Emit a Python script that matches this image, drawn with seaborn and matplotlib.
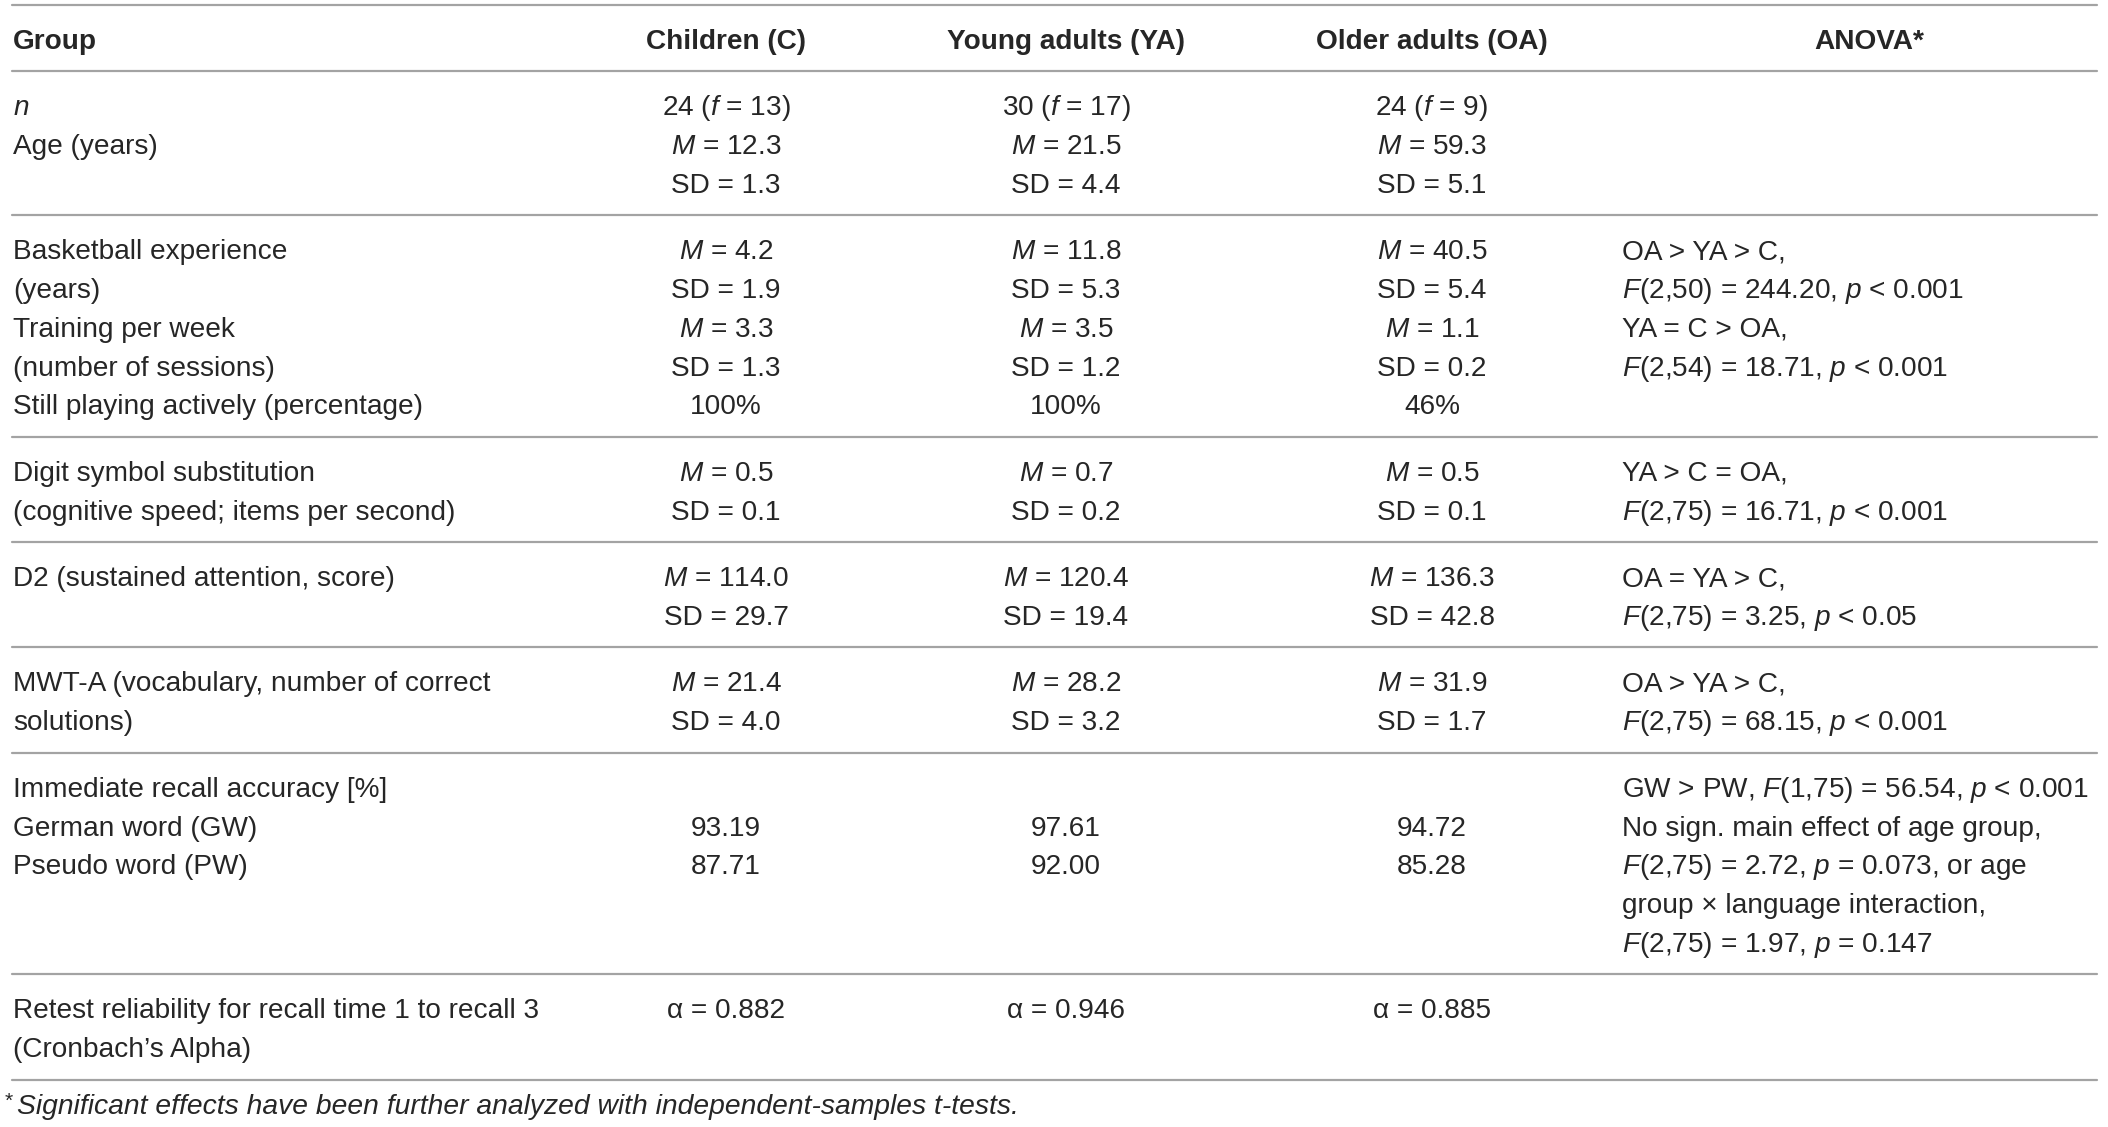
import matplotlib
matplotlib.use("Agg")
import matplotlib.pyplot as plt
import seaborn as sns
import pandas as pd

# ---------------- data ----------------
columns = ["Group", "Children (C)", "Young adults (YA)", "Older adults (OA)", "ANOVA*"]

# section index of each text line (sections are separated by rules)
sections = [0, 0, 0, 1, 1, 1, 1, 1, 2, 2, 3, 3, 4, 4, 5, 5, 5, 5, 5, 6, 6]

labels = [
    "$n$", "Age (years)", "",
    "Basketball experience", "(years)", "Training per week",
    "(number of sessions)", "Still playing actively (percentage)",
    "Digit symbol substitution", "(cognitive speed; items per second)",
    "D2 (sustained attention, score)", "",
    "MWT-A (vocabulary, number of correct", "solutions)",
    "Immediate recall accuracy [%]", "German word (GW)", "Pseudo word (PW)", "", "",
    "Retest reliability for recall time 1 to recall 3", "(Cronbach\u2019s Alpha)",
]

children = [
    "24 ($f$ = 13)", "$M$ = 12.3", "SD = 1.3",
    "$M$ = 4.2", "SD = 1.9", "$M$ = 3.3", "SD = 1.3", "100%",
    "$M$ = 0.5", "SD = 0.1",
    "$M$ = 114.0", "SD = 29.7",
    "$M$ = 21.4", "SD = 4.0",
    "", "93.19", "87.71", "", "",
    "\u03b1 = 0.882", "",
]

young = [
    "30 ($f$ = 17)", "$M$ = 21.5", "SD = 4.4",
    "$M$ = 11.8", "SD = 5.3", "$M$ = 3.5", "SD = 1.2", "100%",
    "$M$ = 0.7", "SD = 0.2",
    "$M$ = 120.4", "SD = 19.4",
    "$M$ = 28.2", "SD = 3.2",
    "", "97.61", "92.00", "", "",
    "\u03b1 = 0.946", "",
]

older = [
    "24 ($f$ = 9)", "$M$ = 59.3", "SD = 5.1",
    "$M$ = 40.5", "SD = 5.4", "$M$ = 1.1", "SD = 0.2", "46%",
    "$M$ = 0.5", "SD = 0.1",
    "$M$ = 136.3", "SD = 42.8",
    "$M$ = 31.9", "SD = 1.7",
    "", "94.72", "85.28", "", "",
    "\u03b1 = 0.885", "",
]

anova = [
    "", "", "",
    "OA > YA > C,", "$F$(2,50) = 244.20, $p$ < 0.001",
    "YA = C > OA,", "$F$(2,54) = 18.71, $p$ < 0.001", "",
    "YA > C = OA,", "$F$(2,75) = 16.71, $p$ < 0.001",
    "OA = YA > C,", "$F$(2,75) = 3.25, $p$ < 0.05",
    "OA > YA > C,", "$F$(2,75) = 68.15, $p$ < 0.001",
    "GW > PW, $F$(1,75) = 56.54, $p$ < 0.001",
    "No sign. main effect of age group,",
    "$F$(2,75) = 2.72, $p$ = 0.073, or age",
    "group \u00d7 language interaction,",
    "$F$(2,75) = 1.97, $p$ = 0.147",
    "", "",
]

footnote_mark = "*"
footnote = "Significant effects have been further analyzed with independent-samples t-tests."

# ---------------- layout / style ----------------
W, H, DPI = 2108, 1127, 100
PX = 72.0 / DPI
FS = 28 * PX
FS_NOTE = 28.2 * PX
TXT = "#262626"
RULE = "#a3a3a3"

x_label = 13
x_cols = [726, 1066, 1432]
x_anova = 1622
x_anova_head = 1869
rule_x0, rule_x1 = 12, 2097
top_rule, head_rule, head_y = 5, 71, 39
pitch, pad_top, pad_bot = 38.8, 14.6, 13.1
base_off = 10

sns.set_theme(style="white")
plt.rcParams["font.family"] = ["Liberation Sans", "DejaVu Sans"]
plt.rcParams["mathtext.fontset"] = "custom"
plt.rcParams["mathtext.rm"] = "Liberation Sans"
plt.rcParams["mathtext.it"] = "Liberation Sans:italic"
plt.rcParams["mathtext.bf"] = "Liberation Sans:bold"

fig = plt.figure(figsize=(W / DPI, H / DPI), dpi=DPI)
ax = fig.add_axes([0, 0, 1, 1])

# compute section geometry
n_sec = max(sections) + 1
counts = [sections.count(s) for s in range(n_sec)]
tops = [head_rule]
for s in range(n_sec):
    tops.append(tops[-1] + pad_top + counts[s] * pitch + pad_bot)

rules_y = [top_rule] + tops
rules = pd.DataFrame({
    "x": [rule_x0, rule_x1] * len(rules_y),
    "y": [y for y in rules_y for _ in range(2)],
    "rule": [i for i in range(len(rules_y)) for _ in range(2)],
})
sns.lineplot(data=rules, x="x", y="y", units="rule", estimator=None,
             color=RULE, linewidth=2.2 * PX, legend=False, ax=ax)
ax.set_xlim(0, W)
ax.set_ylim(H, 0)
ax.axis("off")

# header
hb = head_y + base_off
ax.text(x_label, hb, columns[0], fontsize=FS, fontweight="bold", color=TXT,
        ha="left", va="baseline")
for xc, name in zip(x_cols, columns[1:4]):
    ax.text(xc, hb, name, fontsize=FS, fontweight="bold", color=TXT,
            ha="center", va="baseline")
ax.text(x_anova_head, hb, columns[4], fontsize=FS, fontweight="bold", color=TXT,
        ha="center", va="baseline")

# body
k_in_sec = {}
for i, s in enumerate(sections):
    k = k_in_sec.get(s, 0)
    k_in_sec[s] = k + 1
    yc = tops[s] + pad_top + pitch * (k + 0.5)
    yb = yc + base_off
    if labels[i]:
        ax.text(x_label, yb, labels[i], fontsize=FS, color=TXT, ha="left", va="baseline")
    for xc, col in zip(x_cols, (children, young, older)):
        if col[i]:
            ax.text(xc, yb, col[i], fontsize=FS, color=TXT, ha="center", va="baseline")
    if anova[i]:
        ax.text(x_anova, yb, anova[i], fontsize=FS, color=TXT, ha="left", va="baseline")

# footnote
ax.text(5, 1107, footnote_mark, fontsize=21 * PX, color=TXT, ha="left", va="baseline")
ax.text(17, 1114, footnote, fontsize=FS_NOTE, style="italic", color=TXT,
        ha="left", va="baseline")

fig.savefig("out.png", dpi=DPI)
